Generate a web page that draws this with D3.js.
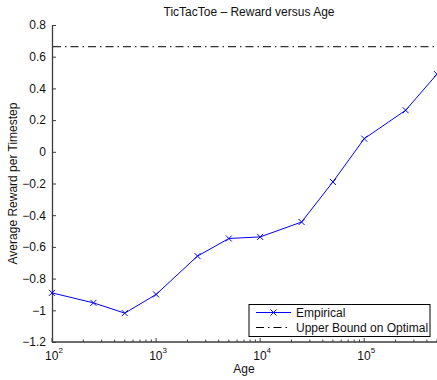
<!DOCTYPE html>
<html>
<head>
<meta charset="utf-8">
<script src="https://cdn.jsdelivr.net/npm/d3@7"></script>
<style>
  html, body { margin: 0; padding: 0; background: #fff; }
  svg { display: block; font-family: "Liberation Sans", Arial, sans-serif; }
</style>
</head>
<body>
<svg id="chart" width="437" height="380"></svg>
<script>
// Training age (log scale) and mean reward per timestep
const ages = [100, 250, 500, 1000, 2500, 5000, 10000, 25000, 50000, 100000, 250000, 500000];
const rewards = [-0.89, -0.953, -1.018, -0.90, -0.658, -0.547, -0.537, -0.443, -0.19, 0.083, 0.262, 0.49];
const upperBound = 0.663;
const yTicks = [-1.2, -1, -0.8, -0.6, -0.4, -0.2, 0, 0.2, 0.4, 0.6, 0.8];
const xMajorTicks = [100, 1000, 10000, 100000];
const legendLabels = ["Empirical", "Upper Bound on Optimal"];

const svg = d3.select("#chart");
const W = 437, H = 380;
const m = { left: 52, right: 0, top: 25, bottom: 38 };

const x = d3.scaleLog().domain([100, 500000]).range([m.left, W - m.right]);
const y = d3.scaleLinear().domain([-1.2, 0.8]).range([H - m.bottom, m.top]);

const axisColor = "#3c3c3c";
const fs = 12;

// Title
svg.append("text")
  .attr("x", 249).attr("y", 16)
  .attr("text-anchor", "middle")
  .attr("font-size", fs)
  .attr("fill", "#111")
  .text("TicTacToe \u2013 Reward versus Age");

// Y axis (inward ticks)
const yAxis = d3.axisLeft(y).tickValues(yTicks).tickSizeInner(-4).tickSizeOuter(0)
  .tickFormat(d => (d === 0 ? "0" : d3.format("")(d)).replace("-", "\u2212"));
const gy = svg.append("g").attr("transform", `translate(${m.left},0)`).call(yAxis);
gy.select(".domain").attr("stroke", axisColor).attr("stroke-width", 1.3);
gy.selectAll(".tick line").attr("stroke", axisColor);
gy.selectAll(".tick text").attr("x", -6).attr("font-size", fs).attr("fill", "#111")
  .attr("font-family", "Liberation Sans, Arial, sans-serif");

// X axis (log, inward major and minor ticks)
const xMinor = [];
for (let e = 2; e <= 5; e++) {
  for (let k = 2; k <= 9; k++) {
    const v = k * Math.pow(10, e);
    if (v <= 500000) xMinor.push(v);
  }
}
const gx = svg.append("g").attr("transform", `translate(0,${H - m.bottom})`);
gx.append("line")
  .attr("x1", m.left).attr("x2", W - m.right)
  .attr("y1", 0).attr("y2", 0)
  .attr("stroke", axisColor).attr("stroke-width", 1.3);
gx.selectAll("line.minor").data(xMinor).join("line")
  .attr("class", "minor")
  .attr("x1", d => x(d)).attr("x2", d => x(d))
  .attr("y1", 0).attr("y2", -2.5)
  .attr("stroke", axisColor);
gx.selectAll("line.major").data(xMajorTicks).join("line")
  .attr("class", "major")
  .attr("x1", d => x(d)).attr("x2", d => x(d))
  .attr("y1", 0).attr("y2", -4)
  .attr("stroke", axisColor);
const xl = gx.selectAll("text.xt").data(xMajorTicks).join("text")
  .attr("class", "xt")
  .attr("x", d => x(d) + 2)
  .attr("y", 18)
  .attr("text-anchor", "middle")
  .attr("font-size", fs)
  .attr("fill", "#111");
xl.append("tspan").text("10");
xl.append("tspan").attr("dy", -7).attr("font-size", 8).text(d => Math.round(Math.log10(d)));

// Axis labels
svg.append("text")
  .attr("x", 244).attr("y", 373)
  .attr("text-anchor", "middle")
  .attr("font-size", fs).attr("fill", "#111")
  .text("Age");
svg.append("text")
  .attr("transform", `translate(17,${(y(-1.2) + y(0.8)) / 2}) rotate(-90)`)
  .attr("text-anchor", "middle")
  .attr("font-size", fs).attr("fill", "#111")
  .text("Average Reward per Timestep");

// Upper bound reference line
svg.append("line")
  .attr("x1", m.left + 1).attr("x2", W - m.right)
  .attr("y1", y(upperBound)).attr("y2", y(upperBound))
  .attr("stroke", "#000").attr("stroke-width", 1)
  .attr("stroke-dasharray", "8,4,1.5,4");

// Empirical series
const blue = "#0000ff";
const line = d3.line().x((d, i) => x(ages[i])).y(d => y(d));
svg.append("path")
  .datum(rewards)
  .attr("d", line)
  .attr("fill", "none")
  .attr("stroke", blue)
  .attr("stroke-width", 1);

function cross(g, cx, cy, s) {
  g.append("path")
    .attr("d", `M${cx - s},${cy - s}L${cx + s},${cy + s}M${cx - s},${cy + s}L${cx + s},${cy - s}`)
    .attr("stroke", blue).attr("stroke-width", 1).attr("fill", "none");
}
const marks = svg.append("g");
rewards.forEach((r, i) => cross(marks, x(ages[i]), y(r), 3));

// Legend
const lg = svg.append("g");
lg.append("rect")
  .attr("x", 249).attr("y", 304.5)
  .attr("width", 181).attr("height", 32)
  .attr("fill", "#fff").attr("stroke", "#000").attr("stroke-width", 1);
lg.append("line")
  .attr("x1", 256).attr("x2", 291).attr("y1", 312.5).attr("y2", 312.5)
  .attr("stroke", blue).attr("stroke-width", 1);
cross(lg, 273.5, 312.5, 3);
lg.append("line")
  .attr("x1", 256).attr("x2", 291).attr("y1", 327.5).attr("y2", 327.5)
  .attr("stroke", "#000").attr("stroke-width", 1)
  .attr("stroke-dasharray", "8,4,1.5,4");
lg.selectAll("text.lt").data(legendLabels).join("text")
  .attr("class", "lt")
  .attr("x", 296)
  .attr("y", (d, i) => 316.5 + i * 15)
  .attr("font-size", fs).attr("fill", "#111")
  .text(d => d);
</script>
</body>
</html>
